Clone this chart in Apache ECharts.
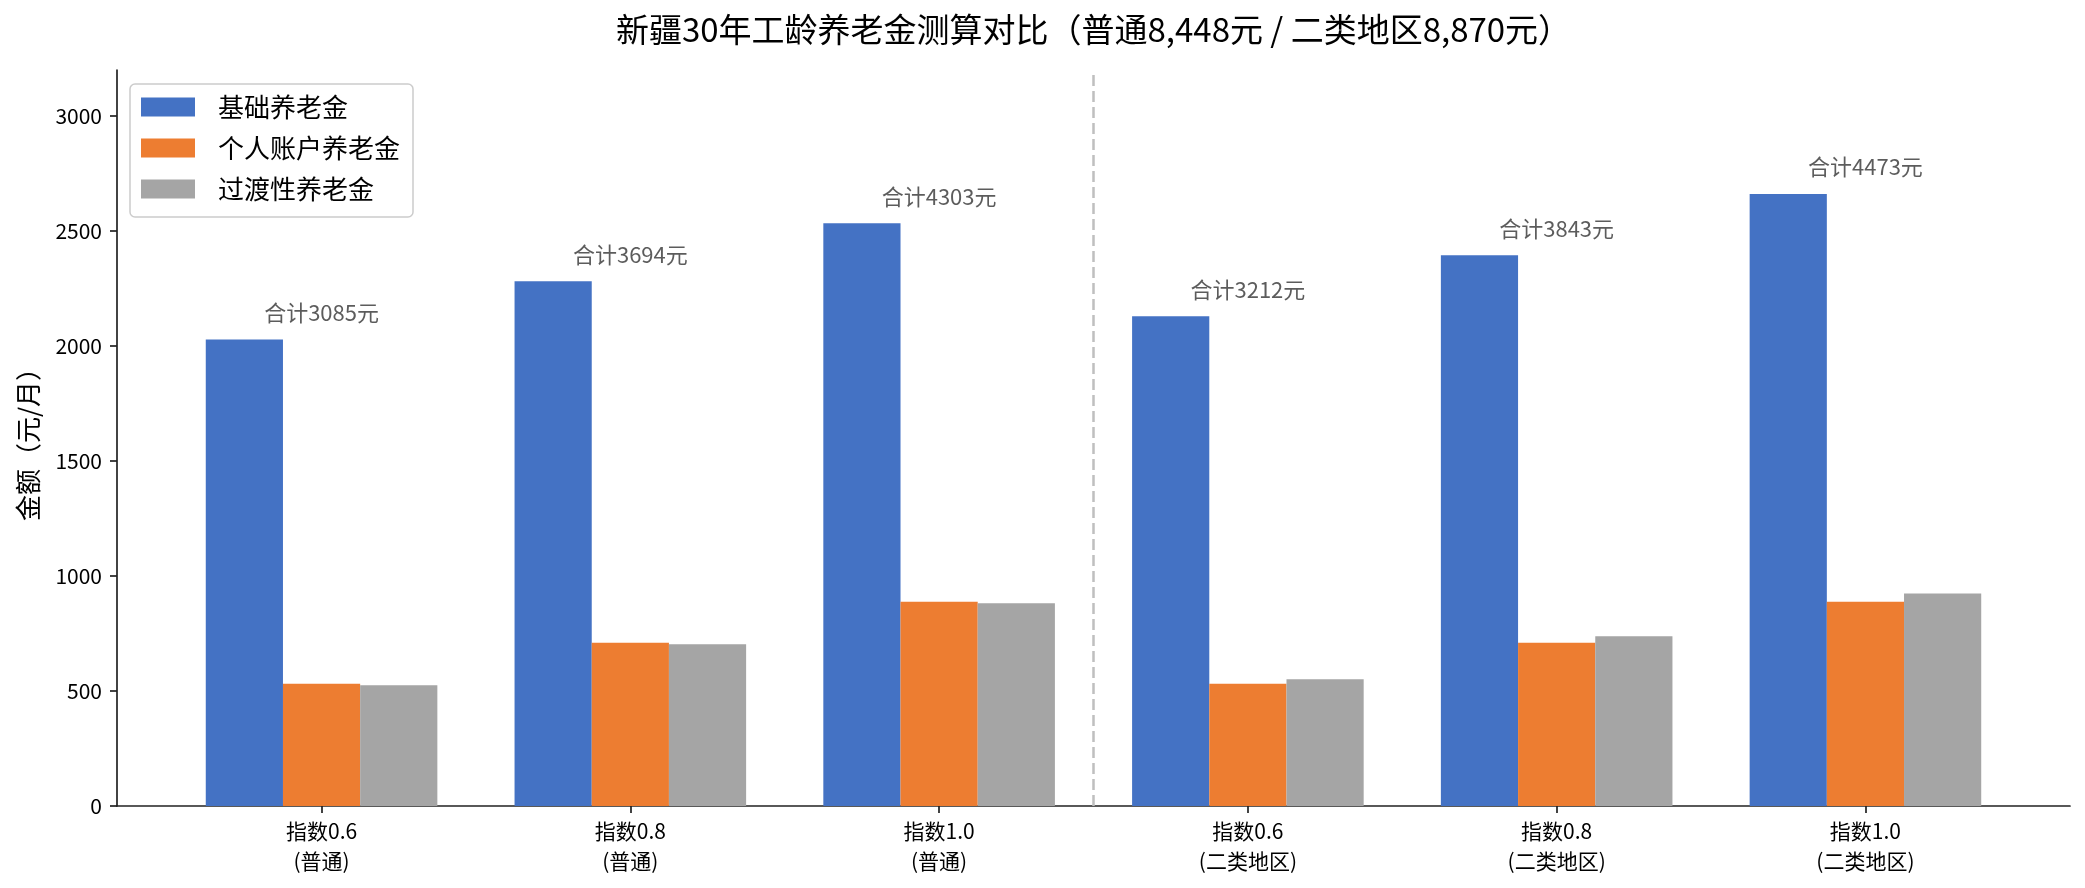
<!DOCTYPE html>
<html>
<head>
<meta charset="utf-8">
<script src="https://cdn.jsdelivr.net/npm/echarts@6/dist/echarts.min.js"></script>
<style>
  html, body { margin: 0; padding: 0; background: #fff; }
  #chart { width: 2085px; height: 888px; }
</style>
</head>
<body>
<div id="chart"></div>
<script>
// 数据
const categories = ['指数0.6\n(普通)', '指数0.8\n(普通)', '指数1.0\n(普通)',
                    '指数0.6\n(二类地区)', '指数0.8\n(二类地区)', '指数1.0\n(二类地区)'];
const basePension = [2028, 2281, 2534, 2129, 2395, 2661];
const personalPension = [532, 710, 888, 532, 710, 888];
const transitionPension = [525, 703, 881, 551, 738, 924];
const totals = [3085, 3694, 4303, 3212, 3843, 4473];
const yTicks = [0, 500, 1000, 1500, 2000, 2500, 3000];
const seriesNames = ['基础养老金', '个人账户养老金', '过渡性养老金'];
const colors = ['#4472C4', '#ED7D31', '#A5A5A5'];

const FONT = '"Noto Sans CJK SC", "Noto Sans", sans-serif';
const xMin = -0.6625, xMax = 5.6625;
const gridLeft = 117, gridRight = 15, gridTop = 70, gridBottom = 82;

const chart = echarts.init(document.getElementById('chart'));
const plotWidth = chart.getWidth() - gridLeft - gridRight;
const barPx = plotWidth / (xMax - xMin) * 0.25;
const idx = categories.map((c, i) => i);

function barSeries(name, values, color, extra) {
    return Object.assign({
        name: name,
        type: 'bar',
        data: values.map((v, i) => [i, v]),
        barWidth: barPx,
        barGap: '0%',
        itemStyle: { color: color },
        emphasis: { disabled: true }
    }, extra || {});
}

const option = {
    animation: false,
    backgroundColor: '#fff',
    textStyle: { fontFamily: FONT },
    title: {
        text: '新疆30年工龄养老金测算对比（普通8,448元 / 二类地区8,870元）',
        left: gridLeft + plotWidth / 2,
        textAlign: 'center',
        top: 11,
        padding: 0,
        textStyle: { fontFamily: FONT, fontSize: 33, fontWeight: 'normal', color: '#000', lineHeight: 36 }
    },
    legend: {
        data: seriesNames,
        orient: 'vertical',
        left: 130,
        top: 84,
        padding: [10, 13, 15, 11],
        itemWidth: 54,
        itemHeight: 19,
        itemGap: 15,
        borderColor: '#cccccc',
        borderWidth: 1.5,
        borderRadius: 5,
        backgroundColor: 'rgba(255,255,255,0.8)',
        icon: 'rect',
        selectedMode: false,
        textStyle: { fontFamily: FONT, fontSize: 26, color: '#000', lineHeight: 26, padding: [0, 0, 0, 18] }
    },
    grid: { left: gridLeft, right: gridRight, top: gridTop, bottom: gridBottom },
    xAxis: {
        type: 'value',
        min: xMin,
        max: xMax,
        splitLine: { show: false },
        axisLine: { show: true, onZero: false, lineStyle: { color: '#222', width: 1.7 } },
        axisTick: { show: true, customValues: idx, length: 7, lineStyle: { color: '#222', width: 1.7 } },
        axisLabel: {
            customValues: idx,
            margin: 10,
            fontFamily: FONT,
            fontSize: 21,
            lineHeight: 30,
            color: '#000',
            formatter: v => categories[Math.round(v)]
        }
    },
    yAxis: {
        type: 'value',
        min: 0,
        max: 3200,
        name: '金额（元/月）',
        nameLocation: 'middle',
        nameRotate: 90,
        nameGap: 76,
        nameTextStyle: { fontFamily: FONT, fontSize: 26, color: '#000' },
        splitLine: { show: false },
        axisLine: { show: true, onZero: false, lineStyle: { color: '#222', width: 1.7 } },
        axisTick: { show: true, customValues: yTicks, length: 7, lineStyle: { color: '#222', width: 1.7 } },
        axisLabel: {
            customValues: yTicks, margin: 15, fontFamily: FONT, fontSize: 21, color: '#000',
            formatter: v => String(v)
        }
    },
    series: [
        barSeries(seriesNames[0], basePension, colors[0]),
        // 中间的系列没有偏移，分隔线挂在这里
        barSeries(seriesNames[1], personalPension, colors[1], {
            markLine: {
                silent: true,
                symbol: 'none',
                label: { show: false },
                lineStyle: { color: '#bfbfbf', type: [11, 5], width: 2.5 },
                data: [{ xAxis: 2.5 }]
            }
        }),
        barSeries(seriesNames[2], transitionPension, colors[2]),
        {
            name: 'totals',
            type: 'scatter',
            data: basePension.map((v, i) => [i, v]),
            symbolSize: 0,
            silent: true,
            label: {
                show: true,
                position: 'top',
                distance: 16,
                fontFamily: FONT,
                fontSize: 22,
                lineHeight: 22,
                color: '#333',
                formatter: p => '合计' + totals[p.dataIndex] + '元'
            }
        }
    ]
};

chart.setOption(option);
</script>
</body>
</html>
